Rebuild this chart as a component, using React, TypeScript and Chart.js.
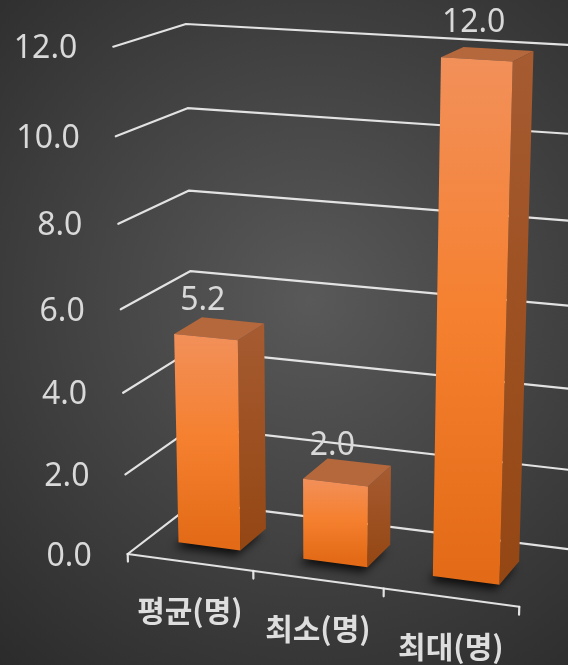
import React, { useEffect, useRef } from 'react';
import { Chart, registerables } from 'chart.js';

Chart.register(...registerables);

// ---- data ----
const categories: string[] = ['평균(명)', '최소(명)', '최대(명)'];
const values: number[] = [5.2, 2.0, 12.0];
const yMin = 0;
const yMax = 12;
const yStep = 2;

// ---- layout / style ----
const W = 568;
const H = 665;
const DEPTH_FRONT = 0.29;
const DEPTH_BACK = 0.7;
// perspective camera (projective map from normalized world to screen)
const CAM = {
  ox: 127.7, oy: 554,
  ax: 362.7, ay: 19.0, a: -0.0556,
  bx: -22.13, by: -510.5, b: -0.0682,
  cx: 79.6, cy: -19.6, c: 0.0639,
};
const GRID_COLOR = 'rgba(235,235,235,0.95)';
const TEXT_COLOR = '#d9d9d9';
const NUM_FONT = '32px "Noto Sans", "DejaVu Sans", sans-serif';
const CAT_FONT = 'bold 30px "Noto Sans CJK KR", "Noto Sans", sans-serif';

function project(X: number, Y: number, Z: number): [number, number] {
  const w = 1 + CAM.a * X + CAM.b * Y + CAM.c * Z;
  return [
    (CAM.ox + CAM.ax * X + CAM.bx * Y + CAM.cx * Z) / w,
    (CAM.oy + CAM.ay * X + CAM.by * Y + CAM.cy * Z) / w,
  ];
}

function poly(ctx: CanvasRenderingContext2D, pts: [number, number][]) {
  ctx.beginPath();
  pts.forEach((p, i) => (i === 0 ? ctx.moveTo(p[0], p[1]) : ctx.lineTo(p[0], p[1])));
  ctx.closePath();
}

const bar3dPlugin = {
  id: 'bar3d',
  beforeDraw(chart: any) {
    const ctx: CanvasRenderingContext2D = chart.ctx;
    ctx.save();
    const g = ctx.createRadialGradient(310, 300, 0, 310, 300, 480);
    g.addColorStop(0, '#595959');
    g.addColorStop(1, '#2b2b2b');
    ctx.fillStyle = g;
    ctx.fillRect(0, 0, chart.width, chart.height);
    ctx.restore();
  },
  afterDraw(chart: any) {
    const ctx: CanvasRenderingContext2D = chart.ctx;
    const xs = chart.scales.x;
    const ys = chart.scales.y;
    const py0 = ys.getPixelForValue(ys.min);
    const py1 = ys.getPixelForValue(ys.max);
    const toX = (px: number) => (px - xs.left) / xs.width;
    const toY = (py: number) => (py0 - py) / (py0 - py1);
    const n = chart.data.labels.length;

    ctx.save();
    ctx.lineCap = 'round';
    ctx.lineJoin = 'round';

    // walls gridlines
    ctx.strokeStyle = GRID_COLOR;
    ctx.lineWidth = 2.2;
    ys.ticks.forEach((t: any) => {
      const Y = toY(ys.getPixelForValue(t.value));
      const a = project(0, Y, 0);
      const b = project(0, Y, 1);
      const c = project(1.03, Y, 1);
      ctx.beginPath();
      ctx.moveTo(a[0], a[1]);
      ctx.lineTo(b[0], b[1]);
      ctx.lineTo(c[0], c[1]);
      ctx.stroke();
    });

    const meta = chart.getDatasetMeta(0);
    const ds = chart.data.datasets[0];

    // shadows
    meta.data.forEach((bar: any) => {
      const X0 = toX(bar.x - bar.width / 2);
      const X1 = toX(bar.x + bar.width / 2);
      const foot: [number, number][] = [
        project(X0, 0, DEPTH_FRONT),
        project(X1, 0, DEPTH_FRONT),
        project(X1, 0, DEPTH_BACK),
        project(X0, 0, DEPTH_BACK),
      ];
      ctx.save();
      ctx.filter = 'blur(5px)';
      ctx.fillStyle = 'rgba(0,0,0,0.8)';
      poly(ctx, foot.map((p) => [p[0] - 4, p[1] + 5] as [number, number]));
      ctx.fill();
      ctx.restore();
    });

    // bars
    meta.data.forEach((bar: any) => {
      const X0 = toX(bar.x - bar.width / 2);
      const X1 = toX(bar.x + bar.width / 2);
      const Yt = toY(bar.y);
      const Yb = toY(bar.base);
      const f0 = project(X0, Yb, DEPTH_FRONT);
      const f1 = project(X1, Yb, DEPTH_FRONT);
      const f2 = project(X1, Yt, DEPTH_FRONT);
      const f3 = project(X0, Yt, DEPTH_FRONT);
      const b1 = project(X1, Yb, DEPTH_BACK);
      const b2 = project(X1, Yt, DEPTH_BACK);
      const b3 = project(X0, Yt, DEPTH_BACK);

      // right side
      const sg = ctx.createLinearGradient(0, b2[1], 0, f1[1]);
      sg.addColorStop(0, '#a65b31');
      sg.addColorStop(1, '#944713');
      ctx.fillStyle = sg;
      poly(ctx, [f1, b1, b2, f2]);
      ctx.fill();

      // top
      ctx.fillStyle = '#b6683d';
      poly(ctx, [f3, f2, b2, b3]);
      ctx.fill();

      // front
      const fg = ctx.createLinearGradient(0, f3[1], 0, f0[1]);
      fg.addColorStop(0, '#f2905a');
      fg.addColorStop(0.5, '#f5802f');
      fg.addColorStop(1, '#e36b17');
      ctx.fillStyle = fg;
      poly(ctx, [f0, f1, f2, f3]);
      ctx.fill();
    });

    // floor front edge + ticks
    ctx.strokeStyle = GRID_COLOR;
    ctx.lineWidth = 2.2;
    const e0 = project(0, 0, 0);
    const e1 = project(1, 0, 0);
    ctx.beginPath();
    ctx.moveTo(e0[0], e0[1]);
    ctx.lineTo(e1[0], e1[1]);
    ctx.stroke();
    for (let i = 0; i <= n; i++) {
      const X = toX(xs.getPixelForValue(i - 0.5));
      const p = project(X, 0, 0);
      const q = project(X, -0.016, 0);
      ctx.beginPath();
      ctx.moveTo(p[0], p[1]);
      ctx.lineTo(q[0], q[1]);
      ctx.stroke();
    }

    // y-axis labels
    ctx.fillStyle = TEXT_COLOR;
    ctx.font = NUM_FONT;
    ctx.textAlign = 'right';
    ctx.textBaseline = 'alphabetic';
    ys.ticks.forEach((t: any) => {
      const Y = toY(ys.getPixelForValue(t.value));
      const p = project(0, Y, 0);
      ctx.fillText(Number(t.value).toFixed(1), p[0] - 36, p[1] + 11.5);
    });

    // category labels
    ctx.font = CAT_FONT;
    ctx.textAlign = 'center';
    ctx.fillStyle = '#dedede';
    chart.data.labels.forEach((lab: string, i: number) => {
      const X = toX(xs.getPixelForValue(i));
      const p = project(X, 0, 0);
      ctx.fillText(lab, p[0], p[1] + 49 + 11);
    });

    // value labels
    ctx.fillStyle = TEXT_COLOR;
    ctx.font = NUM_FONT;
    meta.data.forEach((bar: any, i: number) => {
      const X = toX(bar.x);
      const Y = toY(bar.y);
      const p = project(X, Y, DEPTH_FRONT);
      ctx.fillText(Number(ds.data[i]).toFixed(1), p[0] - 3, p[1] - 39 + 11.5);
    });

    ctx.restore();
  },
};

export default function App() {
  const ref = useRef<HTMLCanvasElement>(null);
  useEffect(() => {
    const canvas = ref.current;
    if (!canvas) return;
    const chart = new Chart(canvas, {
      type: 'bar',
      data: {
        labels: categories,
        datasets: [
          {
            data: values,
            backgroundColor: 'rgba(0,0,0,0)',
            borderWidth: 0,
            barPercentage: 0.5,
            categoryPercentage: 1,
          },
        ],
      },
      options: {
        animation: false,
        responsive: false,
        devicePixelRatio: 1,
        events: [],
        plugins: { legend: { display: false }, tooltip: { enabled: false } },
        scales: {
          x: {
            offset: true,
            grid: { display: false },
            border: { display: false },
            ticks: { display: false },
          },
          y: {
            min: yMin,
            max: yMax,
            ticks: { stepSize: yStep, display: false },
            grid: { display: false },
            border: { display: false },
          },
        },
      },
      plugins: [bar3dPlugin],
    } as any);
    return () => chart.destroy();
  }, []);
  return (
    <div style={{ position: 'absolute', left: 0, top: 0, width: W, height: H }}>
      <canvas ref={ref} width={W} height={H} style={{ display: 'block' }} />
    </div>
  );
}
